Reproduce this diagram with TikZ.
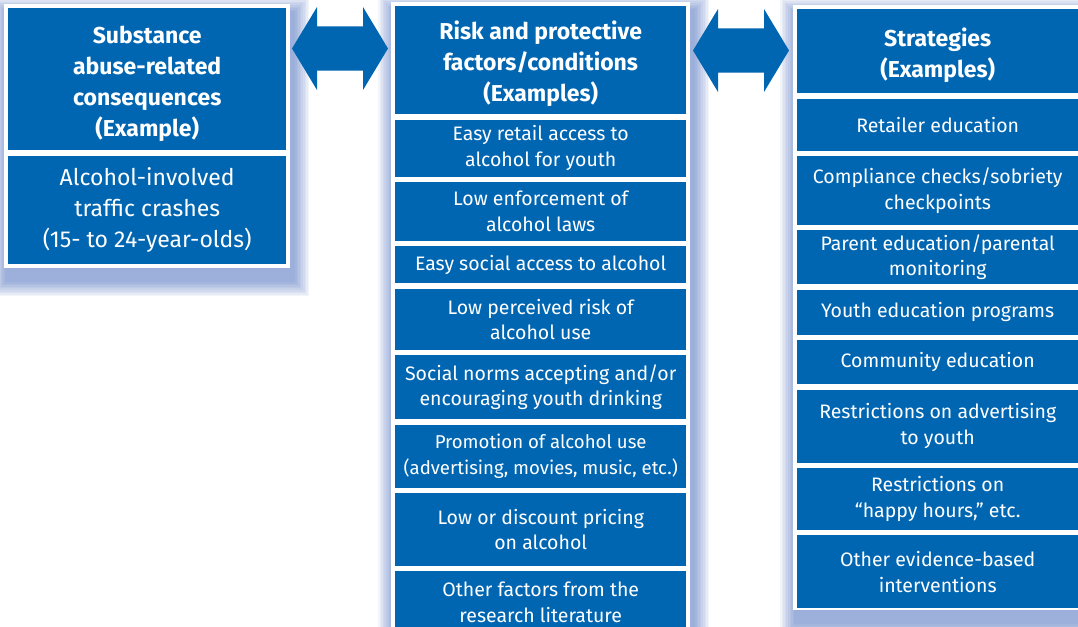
\documentclass[tikz,border=0pt]{standalone}
\usepackage{fontspec}
\setmainfont{Fira Sans}
\usetikzlibrary{positioning}
\usetikzlibrary{calc}
\usetikzlibrary{backgrounds}
\definecolor{boxblue}{RGB}{0,102,178}
\definecolor{shadowblue}{RGB}{40,80,175}
\newcommand\hstrut{\rule{0pt}{26pt}}

\begin{document}
\begin{tikzpicture}[x=1pt,y=-1pt]
		% ------- style -------
		\tikzset{%
			cell/.style 2 args={%
				fill=boxblue, text=white, inner sep=0pt, align=center,
				minimum width=#1pt, minimum height=#2pt,
				font=\fontsize{19.5}{25.5}\selectfont,
			},
			head/.style={font=\fontsize{23}{31}\selectfont\bfseries},
			colframe/.style={fill=white, anchor=north west, inner sep=0pt},
			node distance = 5pt,
		}
		\newcommand\dblarrow[2]{%
			\fill[boxblue] let \p1=(#1), \p2=(#2) in
			(\p1) -- (\x1+25pt,\y1+41.5pt) -- (\x1+25pt,\y1+22pt) -- (\x2-25pt,\y1+22pt)
			-- (\x2-25pt,\y1+41.5pt) -- (\p2) -- (\x2-25pt,\y1-41.5pt) -- (\x2-25pt,\y1-22pt)
			-- (\x1+25pt,\y1-22pt) -- (\x1+25pt,\y1-41.5pt) -- cycle;
		}
		\clip (0,0) rectangle (1078,626);
		
		% ------- frames -------
		\node[colframe, minimum width=286pt, minimum height=264pt] (conscol)  at (4,4)   {};
		\node[colframe, minimum width=299pt, minimum height=640pt] (riskcol)  at (391,2) {};
		\node[colframe, minimum width=290pt, minimum height=605pt] (stratcol) at (793,5) {};
		
		% ------- consequences -------
		\node[cell={278}{142}, head, anchor=north west] (c0) at (8,8) {\hstrut Substance\\abuse-related\\consequences\\(Example)};
		\node[cell={278}{108}, font=\fontsize{23}{31}\selectfont] (c1) [below=of c0] {Alcohol-involved\\traffic crashes\\(15- to 24-year-olds)};
		
		% ------- risk and protective factors -------
		\node[cell={291}{108}, head, anchor=north west] (m0) at (395,6) {\hstrut Risk and protective\\factors/conditions\\(Examples)};
		\node[cell={291}{57}] (m1) [below=of m0] {Easy retail access to\\alcohol for youth};
		\node[cell={291}{59}] (m2) [below=of m1] {Low enforcement of\\alcohol laws};
		\node[cell={291}{37}] (m3) [below=of m2] {Easy social access to alcohol};
		\node[cell={291}{61}] (m4) [below=of m3] {Low perceived risk of\\alcohol use};
		\node[cell={291}{64}] (m5) [below=of m4] {Social norms accepting and/or\\encouraging youth drinking};
		\node[cell={291}{63}, font=\fontsize{18.6}{25.5}\selectfont] (m6) [below=of m5] {Promotion of alcohol use\\(advertising, movies, music, etc.)};
		\node[cell={291}{73}] (m7) [below=of m6] {Low or discount pricing\\on alcohol};
		\node[cell={291}{62}] (m8) [below=of m7] {Other factors from the\\research literature};
		
		% ------- strategies -------
		\node[cell={281}{84}, head, anchor=north west] (s0) at (797,9) {\hstrut Strategies\\(Examples)};
		\node[cell={281}{52}] (s1) [below=of s0] {Retailer education};
		\node[cell={281}{69}] (s2) [below=of s1] {Compliance checks/sobriety\\checkpoints};
		\node[cell={281}{54}] (s3) [below=of s2] {Parent education/parental\\monitoring};
		\node[cell={281}{45}] (s4) [below=of s3] {Youth education programs};
		\node[cell={281}{44}] (s5) [below=of s4] {Community education};
		\node[cell={281}{73}] (s6) [below=of s5] {Restrictions on advertising\\to youth};
		\node[cell={281}{62}] (s7) [below=of s6] {Restrictions on\\“happy hours,” etc.};
		\node[cell={281}{73}] (s8) [below=of s7] {Other evidence-based\\interventions};
		
		% ------- arrows -------
		\coordinate (a1w) at (292,48.5);
		\coordinate (a1e) at (388,48.5);
		\coordinate (a2w) at (693,50.5);
		\coordinate (a2e) at (789,50.5);
		\dblarrow{a1w}{a1e}
		\dblarrow{a2w}{a2e}
		
		% ------- shadows -------
		\begin{scope}[on background layer]
			\foreach \col in {conscol, riskcol, stratcol} {%
				\foreach \k in {1, ..., 10} {%
					\fill[shadowblue, opacity=.06]
					([xshift=-\k*1.6pt+3pt, yshift=\k*1.6pt-9pt]\col.north west) rectangle
					([xshift=\k*1.6pt+3pt, yshift=-\k*1.6pt-12pt]\col.south east);
				}
			}
		\end{scope}
	\end{tikzpicture}
\end{document}
